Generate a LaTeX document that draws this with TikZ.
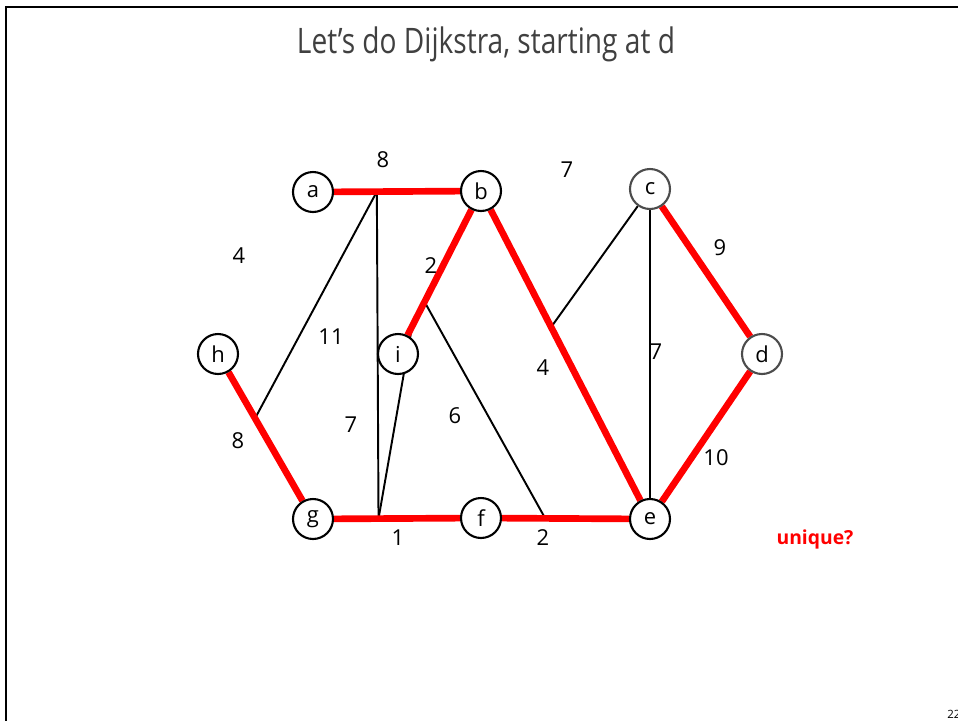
\documentclass[tikz,border=0pt]{standalone}
\usepackage{fontspec}
\setmainfont{Open Sans}
\newfontfamily\titlefont[FakeStretch=0.8]{Open Sans}
\usetikzlibrary{calc,backgrounds}

\begin{document}
\begin{tikzpicture}[x=0.02cm, y=-0.02cm,
    vertex/.style={circle, draw=black, line width=1.2pt, fill=white, inner sep=0pt,
        minimum size=0.8cm, font=\fontsize{12.5}{14}\selectfont},
    greyvertex/.style={vertex, draw=black!70},
    treeedge/.style={red, line width=3.8pt},
    plainedge/.style={black, line width=1.1pt},
    wt/.style={font=\fontsize{12.5}{14}\selectfont}]
    \useasboundingbox (0,0) rectangle (958,721);
    \clip (0,0) rectangle (958,721);
    \draw[line width=1.15pt] (6,730) -- (6,7) -- (970,7);
    \node[text=black!75, font=\titlefont\fontsize{20}{24}\selectfont] (title) at (486,44) {Let’s do Dijkstra, starting at d};

    \node[vertex] (a) at (313,192) {a};
    \node[vertex] (b) at (481,191) {b};
    \node[greyvertex] (c) at (650,189) {c};
    \node[greyvertex] (d) at (762,354) {d};
    \node[vertex] (e) at (650,519) {e};
    \node[vertex] (f) at (481,518) {f};
    \node[vertex] (g) at (313,519) {g};
    \node[vertex] (h) at (218,354) {h};
    \node[vertex] (i) at (398,354) {i};

    \coordinate (ab) at ($(a)!0.38!(b)$);
    \coordinate (hg) at ($(h)!0.39!(g)$);
    \coordinate (gf) at ($(g)!0.39!(f)$);
    \coordinate (ib1) at ($(i)!0.17!(b)$);
    \coordinate (ib2) at ($(i)!0.32!(b)$);
    \coordinate (fe) at ($(f)!0.38!(e)$);
    \coordinate (be) at ($(b)!0.415!(e)$);

    \begin{pgfonlayer}{background}
        \draw[plainedge] (ab) -- (hg);
        \draw[plainedge] (ab) -- (gf);
        \draw[plainedge] (gf) -- (ib1);
        \draw[plainedge] (ib2) -- (fe);
        \draw[plainedge] (c) -- (be);
        \draw[plainedge] (c) -- (e);
        \draw[plainedge, xshift=-2] (c) -- (d);
        \draw[plainedge, xshift=-2] (d) -- (e);
        \draw[treeedge] (a) -- (b);
        \draw[treeedge] (i) -- (b);
        \draw[treeedge] (b) -- (e);
        \draw[treeedge] (c) -- (d);
        \draw[treeedge] (d) -- (e);
        \draw[treeedge] (h) -- (g);
        \draw[treeedge] (g) -- (f);
        \draw[treeedge] (f) -- (e);
    \end{pgfonlayer}

    \node[wt] (w1) at (383,160) {8};
    \node[wt] (w2) at (567,170) {7};
    \node[wt] (w3) at (239,256) {4};
    \node[wt] (w4) at (431,266) {2};
    \node[wt] (w5) at (720,248) {9};
    \node[wt] (w6) at (331,337) {11};
    \node[wt] (w7) at (543,368) {4};
    \node[wt] (w8) at (656,352) {7};
    \node[wt] (w9) at (351,425) {7};
    \node[wt] (w10) at (455,416) {6};
    \node[wt] (w11) at (238,441) {8};
    \node[wt] (w12) at (716,458) {10};
    \node[wt] (w13) at (398,538) {1};
    \node[wt] (w14) at (543,538) {2};

    \node[red, font=\bfseries\fontsize{11}{13}\selectfont] (note) at (815,539) {unique?};
    \node[anchor=west, inner sep=0pt, font=\fontsize{6.5}{7}\selectfont] (pagenum) at (947,714) {22};
\end{tikzpicture}
\end{document}
